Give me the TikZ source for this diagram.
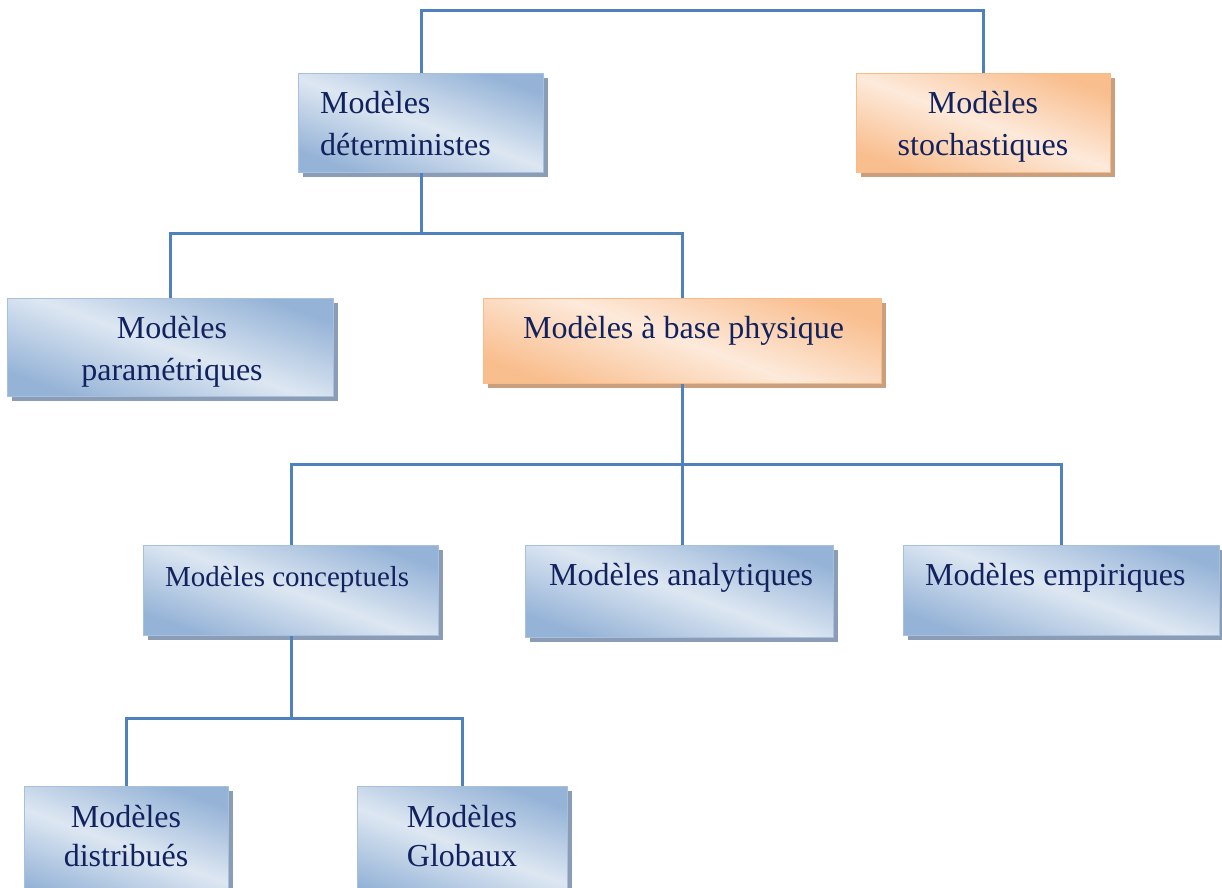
\documentclass[tikz,border=0pt]{standalone}
\usepackage{fontspec}
\setmainfont{Liberation Serif}
\usetikzlibrary{positioning,calc,shadows}

\definecolor{linkblue}{HTML}{4F81BD}
\definecolor{bluelight}{HTML}{DDE7F2}
\definecolor{bluedark}{HTML}{95B3D7}
\definecolor{blueedge}{HTML}{A9C0DD}
\definecolor{blueshadow}{HTML}{8A9CB6}
\definecolor{orangelight}{HTML}{FDEADB}
\definecolor{orangedark}{HTML}{F9BE8E}
\definecolor{orangeedge}{HTML}{F8BC8A}
\definecolor{orangeshadow}{HTML}{C99F7D}
\definecolor{navy}{HTML}{12225E}

\begin{document}
\begin{tikzpicture}[x=1pt,y=-1pt,
    link/.style={draw=linkblue,line width=3pt},
    box/.style={anchor=north west,inner sep=0pt,line width=1pt},
    bluebox/.style={box,draw=blueedge,top color=bluedark,bottom color=bluedark,middle color=bluelight,shading angle=-20,
      drop shadow={shadow xshift=4pt,shadow yshift=-4pt,fill=blueshadow,opacity=1}},
    orangebox/.style={box,draw=orangeedge,top color=orangedark,bottom color=orangedark,middle color=orangelight,shading angle=-20,
      drop shadow={shadow xshift=4pt,shadow yshift=-4pt,fill=orangeshadow,opacity=1}},
    txt/.style={text=navy,inner sep=0pt,anchor=base west,font=\fontsize{32}{40}\selectfont},
    ctxt/.style={txt,anchor=base},
    small/.style={font=\fontsize{29}{38}\selectfont}]
  \useasboundingbox (0,0) rectangle (1222,887);

  % Boxes
  \node[bluebox,minimum width=245pt,minimum height=99pt] (det) at (298,73) {};
  \node[orangebox,minimum width=254pt,minimum height=99pt] (sto) at (856,73) {};
  \node[bluebox,minimum width=326pt,minimum height=98pt] (param) at (7,298) {};
  \node[orangebox,minimum width=398pt,minimum height=85pt] (phys) at (483,298) {};
  \node[bluebox,minimum width=295pt,minimum height=90pt] (conc) at (143,545) {};
  \node[bluebox,minimum width=308pt,minimum height=92pt] (ana) at (525,545) {};
  \node[bluebox,minimum width=316pt,minimum height=90pt] (emp) at (903,545) {};
  \node[bluebox,minimum width=204pt,minimum height=120pt] (dist) at (24,786) {};
  \node[bluebox,minimum width=210pt,minimum height=120pt] (glob) at (357,786) {};

  % Texts
  \node[txt] (detA) at (320,113) {Modèles};
  \node[txt] (detB) at (320,155) {déterministes};
  \node[ctxt] (stoA) at (983,113) {Modèles};
  \node[ctxt] (stoB) at (983,155) {stochastiques};
  \node[ctxt] (paramA) at (172,338) {Modèles};
  \node[ctxt] (paramB) at (172,380) {paramétriques};
  \node[txt] (physA) at (523,338) {Modèles à base physique};
  \node[txt,small] (concA) at (165,586) {Modèles conceptuels};
  \node[txt] (anaA) at (549,585) {Modèles analytiques};
  \node[txt] (empA) at (925,585) {Modèles empiriques};
  \node[ctxt] (distA) at (126,827) {Modèles};
  \node[ctxt] (distB) at (126,866) {distribués};
  \node[ctxt] (globA) at (462,827) {Modèles};
  \node[ctxt] (globB) at (462,866) {Globaux};

  % Connectors
  \draw[link] (det.north) -- ++(0,-63) -| (sto.north);
  \draw[link] (det.south) -- ++(0,60) coordinate (j1);
  \draw[link] (param.north) |- (j1) -| (phys.north);
  \draw[link] (phys.south) -- ++(0,80) coordinate (j2);
  \draw[link] (conc.north) |- (j2) -| (emp.north);
  \draw[link] (j2) -- (j2 |- ana.north);
  \draw[link] (conc.south) -- ++(0,82) coordinate (j3);
  \draw[link] (dist.north) |- (j3) -| (glob.north);
\end{tikzpicture}
\end{document}
